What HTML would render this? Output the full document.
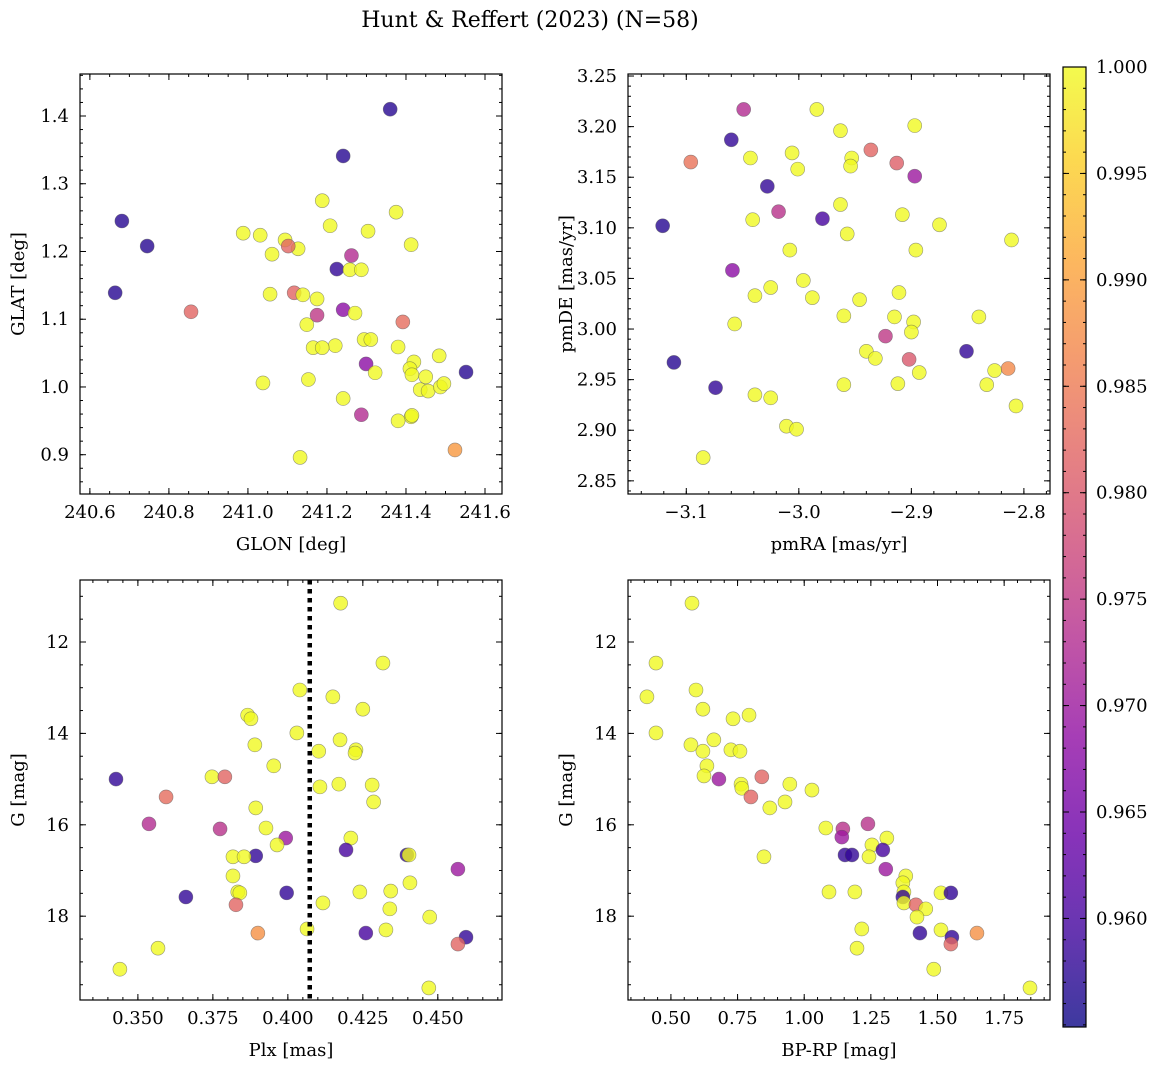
<!DOCTYPE html>
<html><head><meta charset="utf-8">
<style>
html,body{margin:0;padding:0;background:#fff;}
svg{display:block;font-family:"DejaVu Serif","Liberation Serif",serif;}
</style></head>
<body>
<svg id="fig" width="1161" height="1067" viewBox="0 0 1161 1067" xmlns="http://www.w3.org/2000/svg">
<text x="530" y="27" font-size="22" text-anchor="middle">Hunt &amp; Reffert (2023) (N=58)</text>
</svg>
<script>
// Panel 1: GLON vs GLAT
const glon=[241.360,241.241,240.681,240.745,240.664,240.856,241.552,241.524,241.188,240.988,241.031,241.094,241.127,241.102,241.061,241.208,241.304,241.375,241.413,241.225,241.262,241.258,241.287,241.117,241.139,241.175,241.056,241.241,241.175,241.271,241.149,241.392,241.221,241.294,241.311,241.165,241.188,241.380,241.420,241.299,241.322,241.484,241.410,241.415,241.450,241.038,241.153,241.436,241.456,241.487,241.496,241.241,241.287,241.413,241.415,241.380,241.132];
const glat=[1.410,1.341,1.245,1.208,1.139,1.111,1.022,0.907,1.275,1.227,1.224,1.217,1.204,1.208,1.196,1.238,1.230,1.258,1.210,1.174,1.194,1.173,1.173,1.139,1.136,1.130,1.137,1.114,1.106,1.109,1.092,1.096,1.061,1.070,1.070,1.058,1.058,1.059,1.037,1.034,1.021,1.046,1.027,1.018,1.015,1.006,1.011,0.996,0.994,1.000,1.005,0.983,0.959,0.956,0.958,0.950,0.896];
const prob1=[0.957,0.957,0.957,0.957,0.957,0.982,0.957,0.989,1,1,1,1,1,0.982,1,1,1,1,1,0.958,0.973,1,1,0.982,1,1,1,0.968,0.975,1,1,0.983,1,1,1,1,1,1,1,0.968,1,1,1,1,1,1,1,1,1,1,1,1,0.973,1,1,1,1];
// Panel 2: pmRA vs pmDE
const pmra=[-3.049,-2.984,-3.060,-3.096,-2.963,-2.897,-2.936,-3.006,-3.043,-2.953,-2.954,-3.001,-2.913,-2.897,-3.028,-3.121,-3.041,-3.018,-2.979,-2.963,-2.908,-2.875,-2.957,-3.008,-2.896,-2.811,-3.059,-2.996,-3.025,-3.039,-2.988,-2.946,-2.911,-2.960,-2.840,-2.915,-3.057,-2.898,-2.900,-2.923,-2.851,-2.940,-2.932,-3.111,-2.902,-2.826,-2.814,-3.074,-2.960,-2.912,-2.833,-3.039,-3.025,-2.893,-3.011,-2.807,-3.002,-3.085];
const pmde=[3.217,3.217,3.187,3.165,3.196,3.201,3.177,3.174,3.169,3.169,3.161,3.158,3.164,3.151,3.141,3.102,3.108,3.116,3.109,3.123,3.113,3.103,3.094,3.078,3.078,3.088,3.058,3.048,3.041,3.033,3.031,3.029,3.036,3.013,3.012,3.012,3.005,3.007,2.997,2.993,2.978,2.978,2.971,2.967,2.970,2.959,2.961,2.942,2.945,2.946,2.945,2.935,2.932,2.957,2.904,2.924,2.901,2.873];
const prob2=[0.973,1,0.958,0.984,1,1,0.982,1,1,1,1,1,0.981,0.970,0.958,0.957,1,0.974,0.960,1,1,1,1,1,1,1,0.968,1,1,1,1,1,1,1,1,1,1,1,1,0.975,0.958,1,1,0.957,0.980,1,0.987,0.958,1,1,1,1,1,1,1,1,1,1];
// Panel 3: Plx vs G
const plx=[0.4176,0.4317,0.4040,0.4150,0.4250,0.3866,0.3877,0.4030,0.4174,0.4103,0.4227,0.4224,0.3890,0.3953,0.3747,0.3790,0.3427,0.4170,0.4107,0.4281,0.4286,0.3594,0.3893,0.3537,0.3927,0.3774,0.3993,0.4210,0.3964,0.4194,0.3893,0.3817,0.3854,0.4397,0.4404,0.4567,0.3817,0.4407,0.3660,0.3833,0.3840,0.3996,0.4240,0.4343,0.3827,0.4117,0.4340,0.4473,0.4064,0.3900,0.4260,0.4327,0.4594,0.4567,0.3567,0.3440,0.4470];
const g3=[11.15,12.46,13.05,13.20,13.47,13.60,13.68,13.99,14.14,14.39,14.36,14.43,14.25,14.71,14.95,14.95,15.00,15.11,15.17,15.13,15.50,15.39,15.63,15.98,16.07,16.09,16.29,16.29,16.44,16.55,16.68,16.70,16.70,16.66,16.66,16.97,17.12,17.27,17.58,17.47,17.49,17.49,17.47,17.45,17.75,17.71,17.84,18.02,18.28,18.37,18.37,18.30,18.46,18.61,18.70,19.16,19.57];
const prob3=[1,1,1,1,1,1,1,1,1,1,1,1,1,1,1,0.982,0.958,1,1,1,1,0.983,1,0.973,1,0.974,0.970,1,1,0.960,0.958,1,1,0.958,1,0.970,1,1,0.958,1,1,0.958,1,1,0.982,1,1,1,1,0.988,0.960,1,0.958,0.982,1,1,1];
const plxLimit=[0.4073];
// Panel 4: BP-RP vs G
const bprp=[0.579,0.444,0.410,0.594,0.620,0.793,0.733,0.444,0.661,0.575,0.620,0.725,0.759,0.635,0.680,0.624,0.841,0.763,0.946,0.766,1.029,0.800,0.928,0.871,1.239,1.081,1.145,1.141,1.310,1.254,1.295,1.153,1.179,1.243,0.849,1.306,1.381,1.370,1.093,1.190,1.374,1.513,1.550,1.370,1.374,1.419,1.456,1.423,1.216,1.513,1.434,1.648,1.554,1.550,1.198,1.486,1.847];
const g4=[11.15,12.46,13.20,13.05,13.47,13.60,13.68,13.99,14.14,14.25,14.39,14.36,14.39,14.71,15.00,14.93,14.95,15.11,15.11,15.20,15.24,15.39,15.50,15.63,15.98,16.07,16.09,16.27,16.29,16.44,16.55,16.66,16.66,16.70,16.70,16.97,17.12,17.27,17.47,17.47,17.47,17.49,17.49,17.58,17.71,17.75,17.84,18.02,18.28,18.30,18.37,18.37,18.46,18.61,18.70,19.16,19.57];
const prob4=[1,1,1,1,1,1,1,1,1,1,1,1,1,1,0.970,1,0.982,1,1,1,1,0.982,1,1,0.974,1,0.974,0.970,1,1,0.960,0.958,0.958,1,1,0.970,1,1,1,1,1,1,0.958,0.958,1,0.982,1,1,1,1,0.958,0.988,0.958,0.982,1,1,1];
const cbTicks=[0.960,0.965,0.970,0.975,0.980,0.985,0.990,0.995,1.000];
const vmin=0.9549, vmax=1.0;

const NS="http://www.w3.org/2000/svg";
const svg=document.getElementById('fig');
function mk(tag,attrs,parent){const e=document.createElementNS(NS,tag);for(const k in attrs)e.setAttribute(k,attrs[k]);(parent||svg).appendChild(e);return e;}
const stops=[[13,8,135],[65,4,157],[106,0,168],[143,13,164],[177,42,144],[204,71,120],[225,100,98],[242,132,75],[252,166,54],[252,206,37],[240,249,33]];
function plasma(t){t=Math.max(0,Math.min(1,t));const s=t*10,i=Math.min(9,Math.floor(s)),f=s-i;const a=stops[i],b=stops[i+1];return `rgb(${Math.round(a[0]+(b[0]-a[0])*f)},${Math.round(a[1]+(b[1]-a[1])*f)},${Math.round(a[2]+(b[2]-a[2])*f)})`;}

function panel(o){
  const {x0,y0,w,h,xd,yd,xt,yt,xmin,ymin,xlab,ylab,name,xfmt,yfmt,invert}=o;
  const sx=v=>x0+(v-xd[0])/(xd[1]-xd[0])*w;
  const sy=invert? v=>y0+(v-yd[0])/(yd[1]-yd[0])*h : v=>y0+h-(v-yd[0])/(yd[1]-yd[0])*h;
  const g=mk('g',{});
  
  
  function ticks(vals,len,axis,label){
    vals.forEach(v=>{
      if(axis==='x'){const X=sx(v);if(X<x0-0.5||X>x0+w+0.5)return;
        mk('line',{x1:X,x2:X,y1:y0+h,y2:y0+h-len,stroke:'#000','stroke-width':1},g);
        mk('line',{x1:X,x2:X,y1:y0,y2:y0+len,stroke:'#000','stroke-width':1},g);
        if(label){const t=mk('text',{x:X,y:y0+h+24,'font-size':18,'text-anchor':'middle'},g);t.textContent=xfmt(v);
          }
      }else{const Y=sy(v);if(Y<y0-0.5||Y>y0+h+0.5)return;
        mk('line',{x1:x0,x2:x0+len,y1:Y,y2:Y,stroke:'#000','stroke-width':1},g);
        mk('line',{x1:x0+w,x2:x0+w-len,y1:Y,y2:Y,stroke:'#000','stroke-width':1},g);
        if(label){const t=mk('text',{x:x0-11,y:Y+6,'font-size':18,'text-anchor':'end'},g);t.textContent=yfmt(v);
          }
      }
    });
  }
  ticks(xmin,3,'x',false);ticks(ymin,3,'y',false);
  ticks(xt,6,'x',true);ticks(yt,6,'y',true);
  const xl=mk('text',{x:x0+w/2,y:y0+h+56,'font-size':18,'text-anchor':'middle'},g);xl.textContent=xlab;
  
  const yl=mk('text',{x:0,y:0,'font-size':18,'text-anchor':'middle',transform:`translate(${x0-56},${y0+h/2}) rotate(-90)`},g);yl.textContent=ylab;
  
  const pts=mk('g',{},g);
  
  
  o.xs.forEach((xv,i)=>{
    const c=mk('circle',{cx:sx(xv),cy:sy(o.ys[i]),r:7,fill:plasma((o.cs[i]-vmin)/(vmax-vmin)),'fill-opacity':0.8,stroke:'#555','stroke-opacity':0.6,'stroke-width':0.6},pts);
    
    
  });
  if(o.vline){o.vline.forEach(v=>{const l=mk('line',{x1:sx(v),x2:sx(v),y1:y0,y2:y0+h,stroke:'#000','stroke-width':4.5,'stroke-dasharray':'4.5,4.5'},g);
    });}
  mk('rect',{x:x0,y:y0,width:w,height:h,fill:'none',stroke:'#000','stroke-width':1.2},g);
}
function rng(a,b,s){const r=[];for(let v=a;v<=b+s/1000;v+=s)r.push(+v.toFixed(6));return r;}

panel({name:'glon-glat-panel',x0:80,y0:74,w:422,h:420,xd:[240.575,241.643],yd:[0.842,1.462],
  xt:rng(240.6,241.6,0.2),yt:rng(0.9,1.4,0.1),xmin:rng(240.6,241.6,0.05),ymin:rng(0.84,1.46,0.02),
  xfmt:v=>v.toFixed(1),yfmt:v=>v.toFixed(1),xlab:'GLON [deg]',ylab:'GLAT [deg]',xs:glon,ys:glat,cs:prob1});
panel({name:'proper-motion-panel',x0:628,y0:74,w:422,h:420,xd:[-3.1518,-2.7768],yd:[2.837,3.252],
  xt:rng(-3.1,-2.8,0.1),yt:rng(2.85,3.25,0.05),xmin:rng(-3.14,-2.78,0.02),ymin:rng(2.84,3.25,0.01),
  xfmt:v=>v.toFixed(1).replace('-','\u2212'),yfmt:v=>v.toFixed(2),xlab:'pmRA [mas/yr]',ylab:'pmDE [mas/yr]',xs:pmra,ys:pmde,cs:prob2});
panel({name:'parallax-magnitude-panel',x0:80,y0:580,w:422,h:420,xd:[0.3307,0.4714],yd:[10.643,19.834],invert:true,
  xt:rng(0.35,0.45,0.025),yt:rng(12,18,2),xmin:rng(0.335,0.47,0.005),ymin:rng(11,19.5,0.5),
  xfmt:v=>v.toFixed(3),yfmt:v=>String(v),xlab:'Plx [mas]',ylab:'G [mag]',xs:plx,ys:g3,cs:prob3,vline:plxLimit});
panel({name:'cmd-panel',x0:628,y0:580,w:422,h:420,xd:[0.339,1.922],yd:[10.643,19.834],invert:true,
  xt:rng(0.5,1.75,0.25),yt:rng(12,18,2),xmin:rng(0.35,1.9,0.05),ymin:rng(11,19.5,0.5),
  xfmt:v=>v.toFixed(2),yfmt:v=>String(v),xlab:'BP-RP [mag]',ylab:'G [mag]',xs:bprp,ys:g4,cs:prob4});

// colorbar
const cb=mk('g',{});


const defs=mk('defs',{},cb);
const lg=mk('linearGradient',{id:'pl',x1:0,y1:1,x2:0,y2:0},defs);
for(let i=0;i<=20;i++){mk('stop',{offset:i/20,'stop-color':plasma(i/20),'stop-opacity':0.8},lg);}
const cbx=1063,cby=67,cbw=23,cbh=960;
mk('rect',{x:cbx,y:cby,width:cbw,height:cbh,fill:'url(#pl)'},cb);
const cyy=v=>cby+cbh-(v-vmin)/(vmax-vmin)*cbh;
rng(0.955,1.0,0.001).forEach(v=>{const Y=cyy(v);if(Y>cby+cbh)return;mk('line',{x1:cbx+cbw,x2:cbx+cbw-3,y1:Y,y2:Y,stroke:'#000'},cb);mk('line',{x1:cbx,x2:cbx+3,y1:Y,y2:Y,stroke:'#000'},cb);});
cbTicks.forEach(v=>{const Y=cyy(v);
  mk('line',{x1:cbx+cbw,x2:cbx+cbw-6,y1:Y,y2:Y,stroke:'#000'},cb);mk('line',{x1:cbx,x2:cbx+6,y1:Y,y2:Y,stroke:'#000'},cb);
  const t=mk('text',{x:cbx+cbw+10,y:Y+6,'font-size':18},cb);t.textContent=v.toFixed(3);
  });
mk('rect',{x:cbx,y:cby,width:cbw,height:cbh,fill:'none',stroke:'#000','stroke-width':1.2},cb);
</script>
</body></html>
